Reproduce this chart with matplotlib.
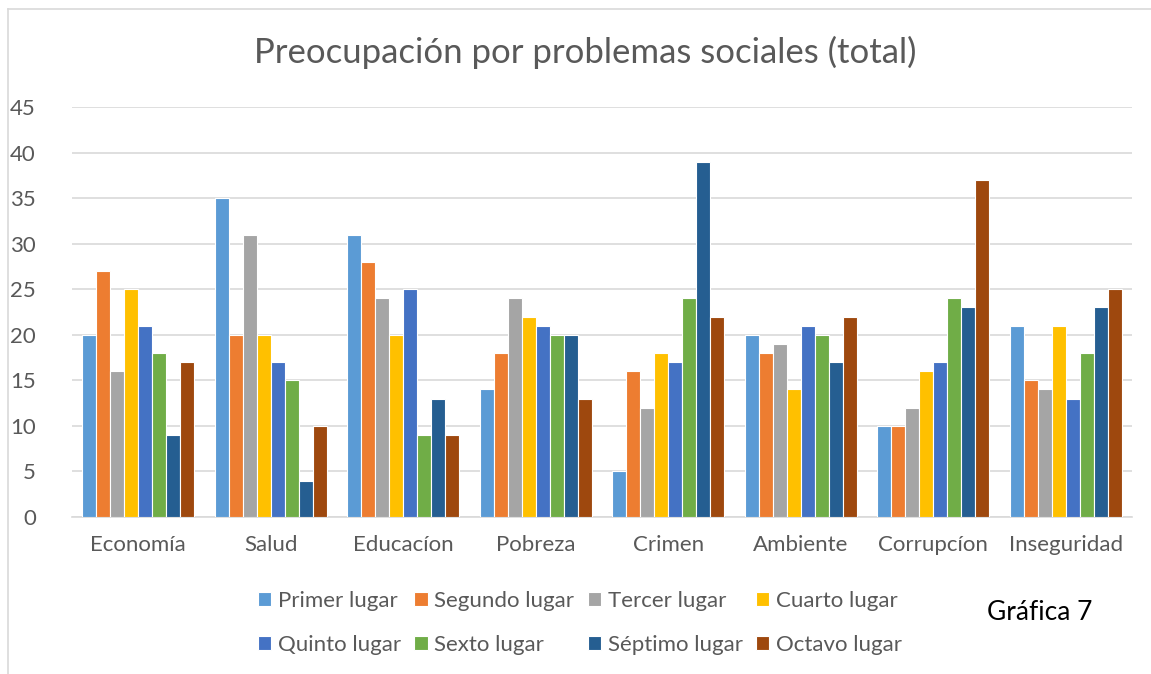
import matplotlib.pyplot as plt
import numpy as np
from matplotlib.lines import Line2D

plt.rcParams['font.family'] = ['Lato', 'DejaVu Sans']

categorias = ['Economía', 'Salud', 'Educacíon', 'Pobreza', 'Crimen', 'Ambiente', 'Corrupcíon', 'Inseguridad']
lugares = ['Primer lugar', 'Segundo lugar', 'Tercer lugar', 'Cuarto lugar',
           'Quinto lugar', 'Sexto lugar', 'Séptimo lugar', 'Octavo lugar']
colores = ['#5B9BD5', '#ED7D31', '#A5A5A5', '#FFC000', '#4472C4', '#70AD47', '#255E91', '#9E480E']

# valores por categoria, un valor por lugar
economia = [20, 27, 16, 25, 21, 18, 9, 17]
salud = [35, 20, 31, 20, 17, 15, 4, 10]
educacion = [31, 28, 24, 20, 25, 9, 13, 9]
pobreza = [14, 18, 24, 22, 21, 20, 20, 13]
crimen = [5, 16, 12, 18, 17, 24, 39, 22]
ambiente = [20, 18, 19, 14, 21, 20, 17, 22]
corrupcion = [10, 10, 12, 16, 17, 24, 23, 37]
inseguridad = [21, 15, 14, 21, 13, 18, 23, 25]

datos = np.array([economia, salud, educacion, pobreza, crimen, ambiente, corrupcion, inseguridad])

fig = plt.figure(figsize=(11.51, 6.74), dpi=100)
ax = fig.add_axes([72/1151, 1 - 517/674, (1132-72)/1151, (517-107)/674])

x = np.arange(len(categorias))
paso = 0.106
for i, lugar in enumerate(lugares):
    ax.bar(x + (i - 3.5) * paso, datos[:, i], width=paso, color=colores[i],
           edgecolor='white', linewidth=0.8, label=lugar, zorder=3)

ax.set_xlim(-0.5, len(categorias) - 0.5)
ax.set_ylim(0, 45)
ax.set_yticks(range(0, 46, 5))
ax.set_xticks(x)
ax.set_xticklabels(categorias)
ax.tick_params(axis='both', length=0, labelsize=16, colors='#595959')
ax.tick_params(axis='x', pad=13)
ax.tick_params(axis='y', pad=26)
ax.grid(axis='y', color='#D9D9D9', linewidth=1.2, zorder=0)
for s in ['top', 'right', 'left']:
    ax.spines[s].set_visible(False)
ax.spines['bottom'].set_color('#D9D9D9')
ax.spines['bottom'].set_linewidth(1.2)

fig.text(585/1151, 1 - 52/674, 'Preocupación por problemas sociales (total)',
         ha='center', va='center', fontsize=25, color='#595959')

# orden por filas en la leyenda
h, l = ax.get_legend_handles_labels()
orden = [0, 4, 1, 5, 2, 6, 3, 7]
ax.legend([h[k] for k in orden], [l[k] for k in orden],
          loc='center', bbox_to_anchor=(580/1151, 1 - 623/674), bbox_transform=fig.transFigure,
          ncol=4, frameon=False, fontsize=16, labelcolor='#595959',
          handlelength=0.6, handleheight=0.6, handletextpad=0.3, columnspacing=0.6,
          labelspacing=1.1)

fig.text(1040/1151, 1 - 612/674, 'Gráfica 7', ha='center', va='center', fontsize=19, color='black')

# borde del recuadro
fig.add_artist(Line2D([8/1151, 1], [1 - 9/674, 1 - 9/674], color='#D9D9D9', linewidth=1.2))
fig.add_artist(Line2D([8/1151, 8/1151], [0, 1 - 9/674], color='#D9D9D9', linewidth=1.2))

fig.savefig('out.png', dpi=100, facecolor='white')
